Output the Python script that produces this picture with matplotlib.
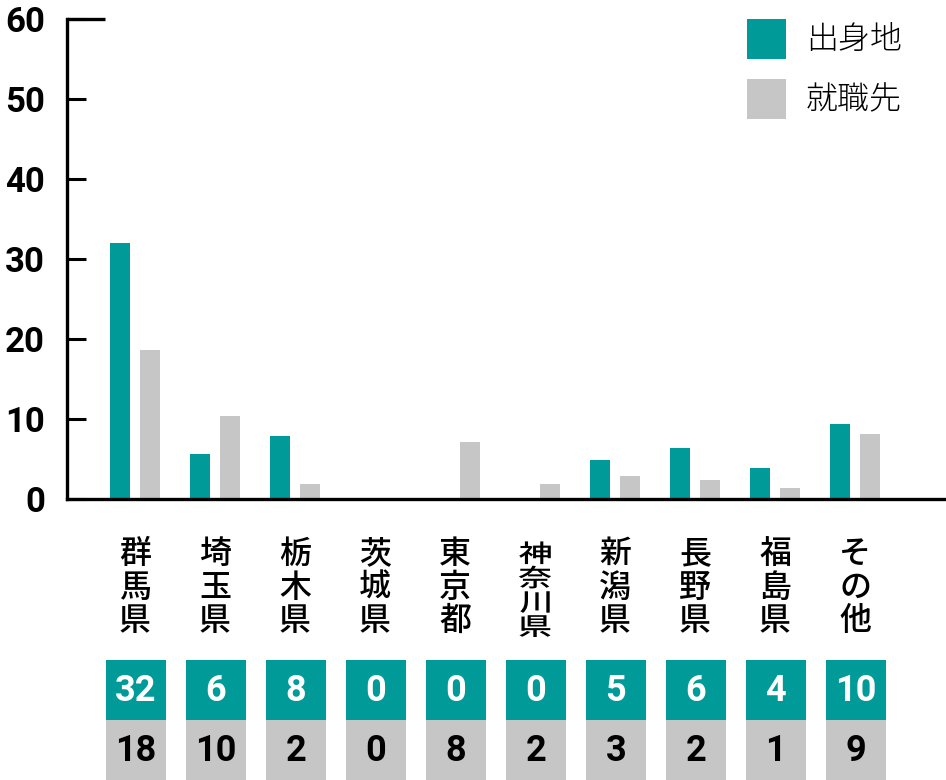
import matplotlib.pyplot as plt
from matplotlib.patches import Rectangle, PathPatch
from matplotlib.transforms import blended_transform_factory, Affine2D
from matplotlib.textpath import TextPath
from matplotlib.font_manager import FontProperties

plt.rcParams['font.family'] = ['Roboto', 'Noto Sans CJK JP', 'DejaVu Sans']

# data
prefs = ['群馬県', '埼玉県', '栃木県', '茨城県', '東京都', '神奈川県',
         '新潟県', '長野県', '福島県', 'その他']
# bar heights as drawn in the chart
origin_bar = [32, 5.6, 7.9, 0, 0, 0, 4.9, 6.4, 3.9, 9.4]
job_bar = [18.6, 10.4, 1.9, 0, 7.1, 1.9, 2.9, 2.4, 1.4, 8.1]
# numbers printed in the table below
origin_num = [32, 6, 8, 0, 0, 0, 5, 6, 4, 10]
job_num = [18, 10, 2, 0, 8, 2, 3, 2, 1, 9]
series_names = ['出身地', '就職先']
yticks = [0, 10, 20, 30, 40, 50, 60]

teal = '#009b98'
gray = '#c6c6c6'

W, H = 946, 780
fig = plt.figure(figsize=(W / 100, H / 100), dpi=100)
ax = fig.add_axes([67 / W, 1 - 499 / H, (W - 67) / W, 480 / H])

x = list(range(len(prefs)))
bw = 0.25
ax.bar([i - 0.1875 for i in x], origin_bar, width=bw, color=teal)
ax.bar([i + 0.1875 for i in x], job_bar, width=bw, color=gray)

ax.set_xlim(-0.85, (W - 135) / 80)
ax.set_ylim(0, 60)
ax.set_xticks([])
ax.set_yticks(yticks)
ax.set_yticklabels([str(t) for t in yticks], fontsize=25, fontweight='bold',
                   family=['Roboto', 'DejaVu Sans'])
ax.tick_params(axis='y', direction='in', length=14, width=2.2, pad=16,
               colors='black')
for s in ['top', 'right']:
    ax.spines[s].set_visible(False)
for s in ['left', 'bottom']:
    ax.spines[s].set_linewidth(2.4)
    ax.spines[s].set_capstyle('projecting')
# longer top tick
ax.plot([0, 38 / (W - 67)], [1, 1], transform=ax.transAxes, color='black',
        lw=2.4, clip_on=False, solid_capstyle='butt')

# category labels and value table
tr = blended_transform_factory(ax.transData, fig.transFigure)
fp = FontProperties(family='Noto Sans CJK JP', weight='medium')
for i, name in enumerate(prefs):
    if len(name) > 3:
        # four characters squeezed vertically into the same height
        cx = ax.transData.transform((i, 0))[0]
        size = 34
        sy = 0.72
        for j, ch in enumerate(name):
            tp = TextPath((0, 0), ch, size=size, prop=fp)
            ext = tp.get_extents()
            top = 541 + j * 24.3
            base = H - top - 0.86 * size * sy
            t = Affine2D().scale(1, sy).translate(
                cx - (ext.x0 + ext.x1) / 2, base)
            fig.add_artist(PathPatch(tp, transform=t, color='black', lw=0))
    else:
        ax.text(i, 1 - 538 / H, '\n'.join(name), transform=tr, ha='center',
                va='top', fontsize=23, fontweight='medium', linespacing=1.06,
                family=['Noto Sans CJK JP'])
    ax.add_patch(Rectangle((i - 0.365, 1 - 720 / H), 0.75, 60 / H,
                           transform=tr, color=teal, clip_on=False, lw=0))
    ax.add_patch(Rectangle((i - 0.365, 1 - 780 / H), 0.75, 60 / H,
                           transform=tr, color=gray, clip_on=False, lw=0))
    ax.text(i + 0.01, 1 - 691 / H, str(origin_num[i]), transform=tr,
            ha='center', va='center', fontsize=26, fontweight='bold',
            color='white')
    ax.text(i + 0.01, 1 - 751 / H, str(job_num[i]), transform=tr,
            ha='center', va='center', fontsize=26, fontweight='bold',
            color='black')

# legend
for k, (name, col) in enumerate(zip(series_names, [teal, gray])):
    top = 19 + k * 60
    fig.add_artist(Rectangle((747 / W, 1 - (top + 40) / H), 39 / W, 40 / H,
                             transform=fig.transFigure, color=col, lw=0))
    fig.text(806 / W, 1 - (top + 21) / H, name, ha='left', va='center',
             fontsize=23, fontweight='light', family=['Noto Sans CJK JP'])

fig.savefig('out.png', dpi=100)
